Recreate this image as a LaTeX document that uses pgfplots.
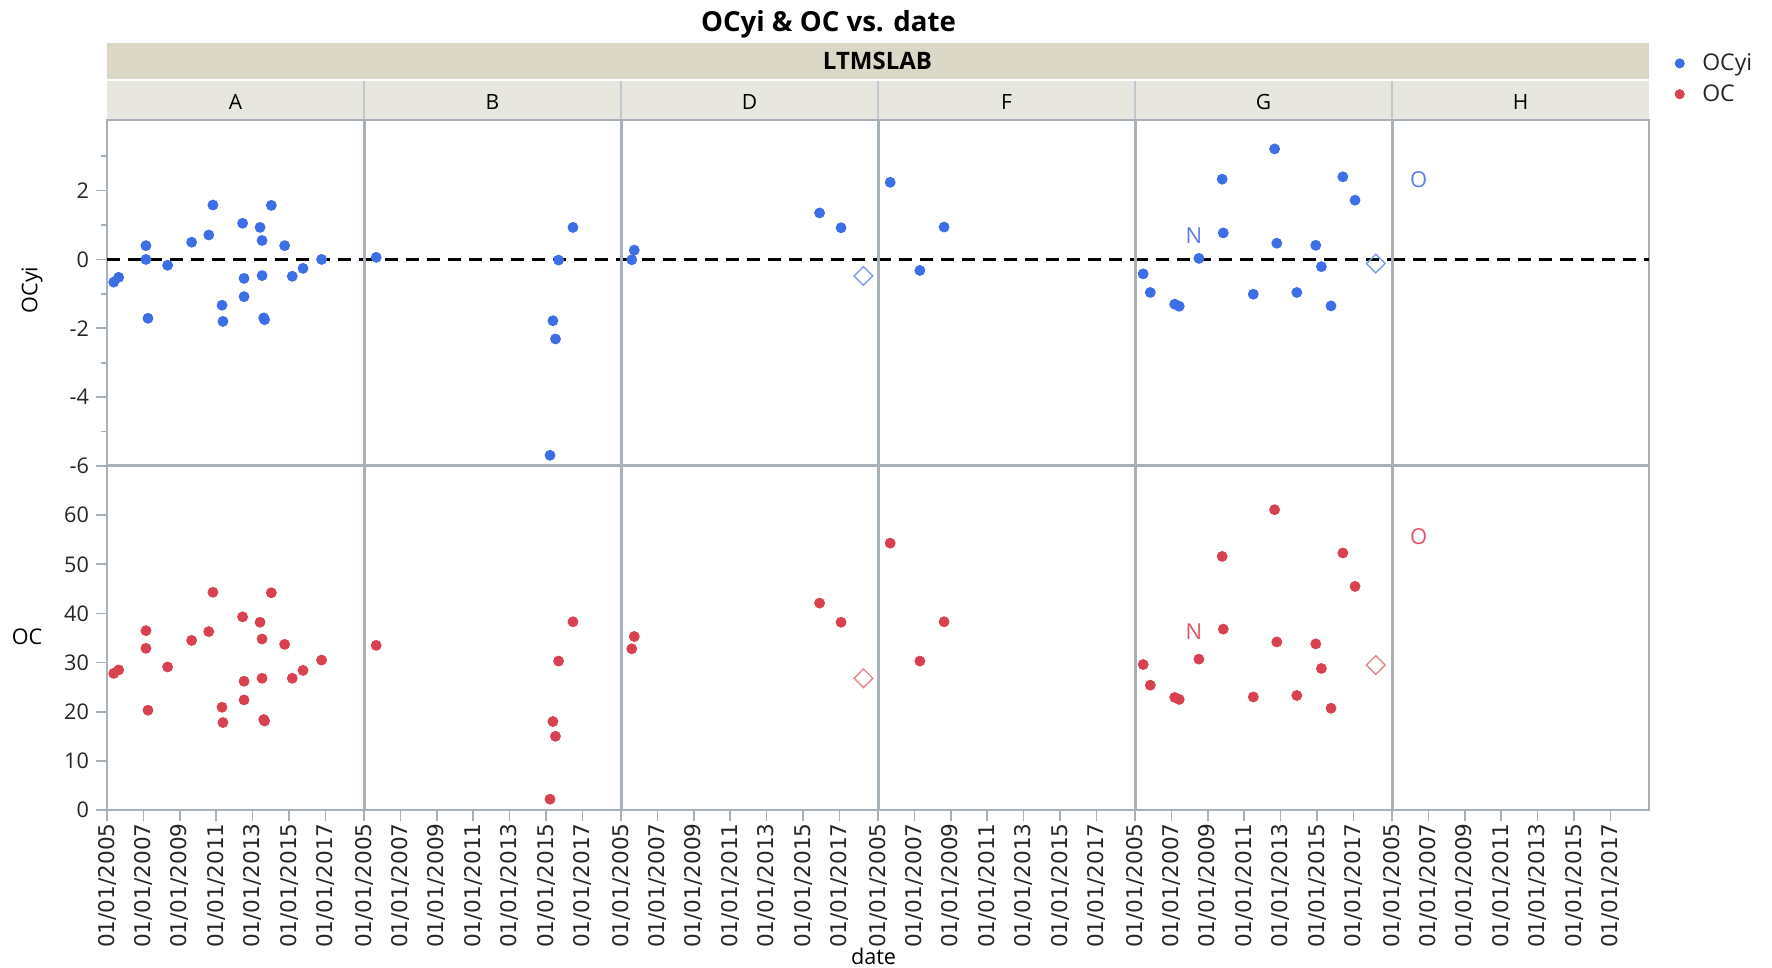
\documentclass[border=0pt]{standalone}
\usepackage{pgfplots}
\pgfplotsset{compat=1.18}
\usepackage{fontspec}
\setmainfont{Open Sans}
\newfontfamily\dvs{DejaVu Sans}

\definecolor{jblue}{RGB}{61,110,230}
\definecolor{jred}{RGB}{215,65,80}
\definecolor{jblueL}{RGB}{125,155,240}
\definecolor{jredL}{RGB}{232,130,140}
\definecolor{jblueT}{RGB}{95,125,235}
\definecolor{jredT}{RGB}{225,85,100}
\definecolor{frame}{RGB}{168,176,184}
\definecolor{stripA}{RGB}{219,216,200}
\definecolor{stripB}{RGB}{232,231,223}

\pgfplotsset{
  panel/.style={
    scale only axis, width=128.5pt,
    xmin=2005, xmax=2019.12,
    axis line style={frame, line width=0.8pt},
    tick style={frame, line width=0.8pt},
    tick align=outside,
    major tick length=5.5pt, minor tick length=3.2pt,
    xtick pos=bottom, ytick pos=left,
    /pgf/number format/assume math mode=true,
    yticklabel style={font=\fontsize{10.8}{12}\selectfont, text=black!85},
    xticklabel style={font={\dvs\fontsize{10.8}{12}\selectfont}, rotate=90, anchor=east, text=black!85, inner sep=1pt},
  },
  toprow/.style={panel, height=173pt, ymin=-6, ymax=4.05, xtick=\empty, ytick=\empty},
  botrow/.style={panel, height=172pt, ymin=0, ymax=70, ytick=\empty,
     xtick={2005,2007,2009,2011,2013,2015,2017},
     xticklabels={01/01/2005,01/01/2007,01/01/2009,01/01/2011,01/01/2013,01/01/2015,01/01/2017}},
  bdot/.style={only marks, mark=*, mark size=2.5pt, color=jblue},
  rdot/.style={only marks, mark=*, mark size=2.5pt, color=jred},
  bdia/.style={only marks, mark=square, mark size=3.3pt, mark options={rotate=45, line width=0.7pt}, color=jblueL},
  rdia/.style={only marks, mark=square, mark size=3.3pt, mark options={rotate=45, line width=0.7pt}, color=jredL},
  btxt/.style={only marks, mark=text, text mark={#1}, text mark as node=true, text mark style={font=\fontsize{11}{11}\selectfont, text=jblueT, inner sep=0pt}},
  rtxt/.style={only marks, mark=text, text mark={#1}, text mark as node=true, text mark style={font=\fontsize{11}{11}\selectfont, text=jredT, inner sep=0pt}},
  zline/.style={black, line width=1.1pt, dash pattern=on 6.3pt off 4.2pt, forget plot},
}

\begin{document}
\begin{tikzpicture}
\useasboundingbox (0,0) rectangle (886pt,484pt);

% header strips
\fill[stripA] (53.5pt,444.5pt) rectangle (824.5pt,462.5pt);
\fill[stripB] (53.5pt,424.5pt) rectangle (824.5pt,443.5pt);
\foreach \xx in {182,310.5,439,567.5,696} {
  \draw[frame!70, line width=1pt] (\xx pt,424.5pt) -- (\xx pt,443.5pt);
}
\node[anchor=base, font=\bfseries\fontsize{13.8}{16}\selectfont] at (414.25pt,468.3pt) {OCyi \& OC vs. date};
\node[anchor=base, font=\bfseries\fontsize{12}{14}\selectfont] at (438.75pt,449pt) {LTMSLAB};
\foreach \xx/\ll in {117.75/A,246.25/B,374.75/D,503.25/F,631.75/G,760.25/H} {
  \node[anchor=base, font=\fontsize{10.5}{12}\selectfont] at (\xx pt,429.2pt) {\ll};
}
\node[rotate=90, font=\fontsize{10.8}{12}\selectfont] at (16pt,339pt) {OCyi};
\node[font=\fontsize{10.8}{12}\selectfont] at (13.5pt,165.5pt) {OC};
\node[anchor=base, font=\fontsize{10.8}{12}\selectfont] at (436.75pt,1.8pt) {date};

% ---------------- top row (OCyi) ----------------
\begin{axis}[toprow, at={(53.5pt,251pt)}, anchor=south west,
  ytick={-6,-4,-2,0,2}, minor ytick={-5,-3,-1,1,3}]
\addplot[zline] coordinates {(2005,0) (2019.12,0)};
\addplot[bdot] coordinates {(2005.37,-0.66) (2005.64,-0.52) (2007.14,0.40) (2007.14,0.00) (2007.25,-1.71) (2008.33,-0.17) (2009.65,0.50) (2010.59,0.71) (2010.82,1.58) (2011.32,-1.33) (2011.37,-1.80) (2012.45,1.05) (2012.53,-0.55) (2012.53,-1.08) (2013.41,0.93) (2013.52,0.55) (2013.52,-0.47) (2013.61,-1.70) (2013.66,-1.75) (2014.03,1.57) (2014.76,0.40) (2015.18,-0.49) (2015.77,-0.26) (2016.79,0.00)};
\end{axis}

\begin{axis}[toprow, at={(182pt,251pt)}, anchor=south west]
\addplot[zline] coordinates {(2005,0) (2019.12,0)};
\addplot[bdot] coordinates {(2005.67,0.06) (2015.22,-5.69) (2015.38,-1.78) (2015.52,-2.31) (2015.69,-0.02) (2016.48,0.93)};
\end{axis}

\begin{axis}[toprow, at={(310.5pt,251pt)}, anchor=south west]
\addplot[zline] coordinates {(2005,0) (2019.12,0)};
\addplot[bdot] coordinates {(2005.59,-0.01) (2005.73,0.27) (2015.91,1.35) (2017.09,0.92)};
\addplot[bdia] coordinates {(2018.32,-0.48)};
\end{axis}

\begin{axis}[toprow, at={(439pt,251pt)}, anchor=south west]
\addplot[zline] coordinates {(2005,0) (2019.12,0)};
\addplot[bdot] coordinates {(2005.67,2.24) (2007.30,-0.32) (2008.63,0.94)};
\end{axis}

\begin{axis}[toprow, at={(567.5pt,251pt)}, anchor=south west]
\addplot[zline] coordinates {(2005,0) (2019.12,0)};
\addplot[bdot] coordinates {(2005.45,-0.42) (2005.84,-0.96) (2007.18,-1.30) (2007.43,-1.36) (2008.51,0.03) (2009.79,2.33) (2009.85,0.77) (2011.50,-1.01) (2012.67,3.21) (2012.79,0.47) (2013.89,-0.96) (2014.93,0.41) (2015.24,-0.21) (2015.77,-1.35) (2016.42,2.40) (2017.09,1.72)};
\addplot[bdia] coordinates {(2018.23,-0.12)};
\addplot[btxt=N] coordinates {(2008.24,0.70)};
\end{axis}

\begin{axis}[toprow, at={(696pt,251pt)}, anchor=south west,
  legend style={at={(1.10,1.205)}, anchor=north west, draw=none, fill=none, inner sep=0pt,
    row sep=1.5pt, font=\fontsize{11.5}{13}\selectfont, text=black!85,
    /tikz/every odd column/.append style={column sep=7pt}},
  legend image code/.code={\draw[#1] plot coordinates {(0pt,0pt)};},
  legend cell align=left]
\addlegendimage{only marks, mark=*, mark size=2.3pt, color=jblue}
\addlegendentry{OCyi}
\addlegendimage{only marks, mark=*, mark size=2.3pt, color=jred}
\addlegendentry{OC}
\addplot[zline] coordinates {(2005,0) (2019.12,0)};
\addplot[btxt=O, forget plot] coordinates {(2006.47,2.33)};
\end{axis}

% ---------------- bottom row (OC) ----------------
\begin{axis}[botrow, at={(53.5pt,79pt)}, anchor=south west,
  ytick={0,10,20,30,40,50,60}]
\addplot[rdot] coordinates {(2005.37,27.8) (2005.64,28.5) (2007.14,36.5) (2007.14,32.9) (2007.25,20.3) (2008.33,29.1) (2009.65,34.5) (2010.59,36.3) (2010.82,44.3) (2011.32,20.9) (2011.37,17.8) (2012.45,39.3) (2012.53,26.2) (2012.53,22.4) (2013.41,38.2) (2013.52,34.8) (2013.52,26.8) (2013.61,18.4) (2013.66,18.1) (2014.03,44.2) (2014.76,33.7) (2015.18,26.8) (2015.77,28.4) (2016.79,30.5)};
\end{axis}

\begin{axis}[botrow, at={(182pt,79pt)}, anchor=south west]
\addplot[rdot] coordinates {(2005.67,33.5) (2015.22,2.2) (2015.38,18.0) (2015.52,15.0) (2015.69,30.3) (2016.48,38.3)};
\end{axis}

\begin{axis}[botrow, at={(310.5pt,79pt)}, anchor=south west]
\addplot[rdot] coordinates {(2005.59,32.8) (2005.73,35.3) (2015.91,42.1) (2017.09,38.2)};
\addplot[rdia] coordinates {(2018.32,26.8)};
\end{axis}

\begin{axis}[botrow, at={(439pt,79pt)}, anchor=south west]
\addplot[rdot] coordinates {(2005.67,54.3) (2007.30,30.3) (2008.63,38.3)};
\end{axis}

\begin{axis}[botrow, at={(567.5pt,79pt)}, anchor=south west]
\addplot[rdot] coordinates {(2005.45,29.6) (2005.84,25.4) (2007.18,22.9) (2007.43,22.5) (2008.51,30.7) (2009.79,51.6) (2009.85,36.8) (2011.50,23.0) (2012.67,61.1) (2012.79,34.2) (2013.89,23.3) (2014.93,33.8) (2015.24,28.8) (2015.77,20.7) (2016.42,52.3) (2017.09,45.5)};
\addplot[rdia] coordinates {(2018.23,29.5)};
\addplot[rtxt=N] coordinates {(2008.24,36.2)};
\end{axis}

\begin{axis}[botrow, at={(696pt,79pt)}, anchor=south west]
\addplot[rtxt=O] coordinates {(2006.47,55.6)};
\end{axis}

% panel separators
\foreach \xx in {182,310.5,439,567.5,696} {
  \draw[frame, line width=1.5pt] (\xx pt,79pt) -- (\xx pt,424pt);
}
\draw[frame, line width=1.5pt] (53.5pt,251pt) -- (824.5pt,251pt);
\end{tikzpicture}
\end{document}
